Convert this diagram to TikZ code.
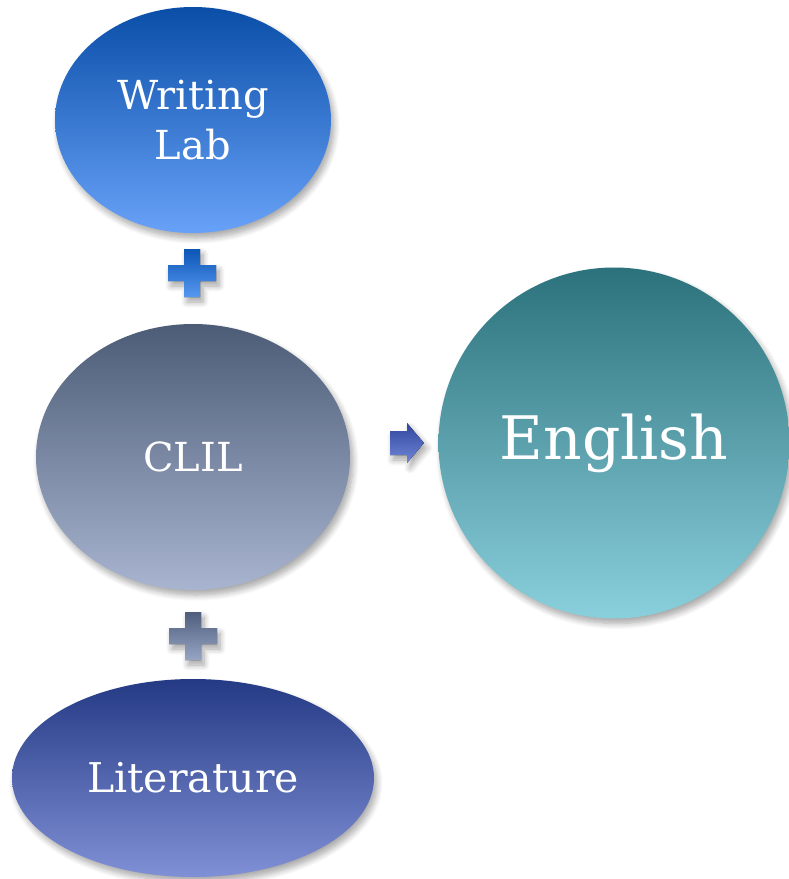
\documentclass[tikz,border=0pt]{standalone}
\usepackage{fontspec}
\setmainfont{DejaVu Serif}
\usetikzlibrary{shapes.geometric,shadows.blur}
\definecolor{wlTop}{RGB}{10,78,168}
\definecolor{wlBot}{RGB}{104,162,248}
\definecolor{clTop}{RGB}{76,92,118}
\definecolor{clBot}{RGB}{168,180,208}
\definecolor{liTop}{RGB}{36,58,132}
\definecolor{liBot}{RGB}{128,144,214}
\definecolor{enTop}{RGB}{44,114,124}
\definecolor{enBot}{RGB}{138,207,220}
\definecolor{arTop}{RGB}{48,70,158}
\definecolor{arBot}{RGB}{112,134,214}
\definecolor{p1Top}{RGB}{12,86,182}
\definecolor{p1Bot}{RGB}{86,152,240}
\definecolor{p2Top}{RGB}{78,94,124}
\definecolor{p2Bot}{RGB}{152,166,198}
\tikzset{
  softshadow/.style={blur shadow={shadow xshift=3pt,shadow yshift=-5pt,shadow blur steps=8,shadow blur radius=6pt,shadow opacity=35}},
  bubble/.style={ellipse,inner sep=0pt,text=white,align=center,softshadow},
}
\newcommand{\plussign}[3]{% center coordinate name, top colour, bottom colour
  \fill[top color=#2,bottom color=#3,softshadow]
    ([shift={(-8,-24)}]#1) -- ++(16,0) -- ++(0,16) -- ++(16,0) -- ++(0,16) -- ++(-16,0)
    -- ++(0,16) -- ++(-16,0) -- ++(0,-16) -- ++(-16,0) -- ++(0,-16) -- ++(16,0) -- cycle;
}
\begin{document}
\begin{tikzpicture}[x=1pt,y=-1pt]
\useasboundingbox (0,0) rectangle (788,879);
\node[bubble,top color=wlTop,bottom color=wlBot,minimum width=276,minimum height=226,font=\fontsize{40}{50}\selectfont] (wl) at (193,120) {Writing\\Lab};
\node[bubble,top color=clTop,bottom color=clBot,minimum width=314,minimum height=266,font=\fontsize{40}{46}\selectfont] (cl) at (193,457) {CLIL};
\node[bubble,top color=liTop,bottom color=liBot,minimum width=362,minimum height=198,font=\fontsize{41}{46}\selectfont] (li) at (193,778) {Literature};
\node[bubble,top color=enTop,bottom color=enBot,minimum width=351,minimum height=351,font=\fontsize{60}{66}\selectfont] (en) at (614,443) {English};
\coordinate (p1) at (192,273);
\coordinate (p2) at (193,636);
\plussign{p1}{p1Top}{p1Bot}
\plussign{p2}{p2Top}{p2Bot}
\coordinate (ar) at (424,443);
\fill[top color=arTop,bottom color=arBot,softshadow]
  (ar) -- ++(-17,-20) -- ++(0,8) -- ++(-17,0) -- ++(0,24) -- ++(17,0) -- ++(0,8) -- cycle;
\end{tikzpicture}
\end{document}
